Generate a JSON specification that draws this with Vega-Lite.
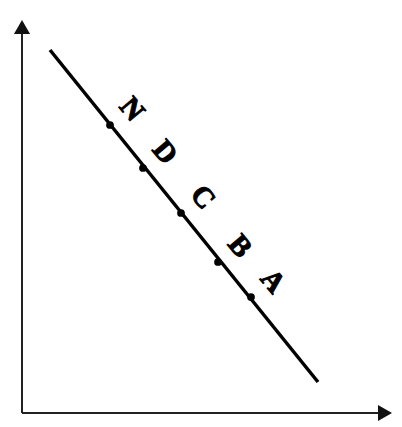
{
  "$schema": "https://vega.github.io/schema/vega-lite/v6.json",
  "width": 402,
  "height": 427,
  "autosize": {"type": "fit", "contains": "padding"},
  "padding": 0,
  "background": "white",
  "config": {"view": {"stroke": null}},
  "datasets": {
    "axes": [
      {"axis": "y", "x": 0, "y": 0, "x2": 0, "y2": 38.5},
      {"axis": "x", "x": 0, "y": 0, "x2": 36.5, "y2": 0}
    ],
    "arrows": [
      {"axis": "y", "x": 0, "y": 38.6, "shape": "triangle-up"},
      {"axis": "x", "x": 36.3, "y": 0, "shape": "triangle-right"}
    ],
    "line": [
      {"x": 2.8, "y": 36.3, "x2": 29.6, "y2": 3.1}
    ],
    "points": [
      {"label": "N", "x": 8.8, "y": 28.8},
      {"label": "D", "x": 12.1, "y": 24.5},
      {"label": "C", "x": 15.9, "y": 20.0},
      {"label": "B", "x": 19.6, "y": 15.1},
      {"label": "A", "x": 22.9, "y": 11.6}
    ]
  },
  "layer": [
    {
      "data": {"name": "axes"},
      "mark": {"type": "rule", "color": "#222", "strokeWidth": 2},
      "encoding": {
        "x": {"field": "x", "type": "quantitative", "scale": {"domain": [-2.2, 38.0], "nice": false, "zero": false}, "axis": null},
        "y": {"field": "y", "type": "quantitative", "scale": {"domain": [-1.4, 41.3], "nice": false, "zero": false}, "axis": null},
        "x2": {"field": "x2"},
        "y2": {"field": "y2"}
      }
    },
    {
      "data": {"name": "arrows"},
      "mark": {"type": "point", "filled": true, "color": "#111", "size": 260, "opacity": 1},
      "encoding": {
        "x": {"field": "x", "type": "quantitative"},
        "y": {"field": "y", "type": "quantitative"},
        "shape": {"field": "shape", "type": "nominal", "scale": null, "legend": null}
      }
    },
    {
      "data": {"name": "line"},
      "mark": {"type": "rule", "color": "#000", "strokeWidth": 3.5},
      "encoding": {
        "x": {"field": "x", "type": "quantitative"},
        "y": {"field": "y", "type": "quantitative"},
        "x2": {"field": "x2"},
        "y2": {"field": "y2"}
      }
    },
    {
      "data": {"name": "points"},
      "mark": {"type": "point", "filled": true, "color": "#000", "size": 60, "opacity": 1},
      "encoding": {
        "x": {"field": "x", "type": "quantitative"},
        "y": {"field": "y", "type": "quantitative"}
      }
    },
    {
      "data": {"name": "points"},
      "mark": {"type": "text", "font": "Liberation Serif", "fontWeight": "bold", "fontSize": 29, "angle": 50, "dx": 2, "dy": -27, "align": "center", "baseline": "middle", "color": "#000", "stroke": "#000", "strokeWidth": 1},
      "encoding": {
        "x": {"field": "x", "type": "quantitative"},
        "y": {"field": "y", "type": "quantitative"},
        "text": {"field": "label"}
      }
    }
  ]
}
